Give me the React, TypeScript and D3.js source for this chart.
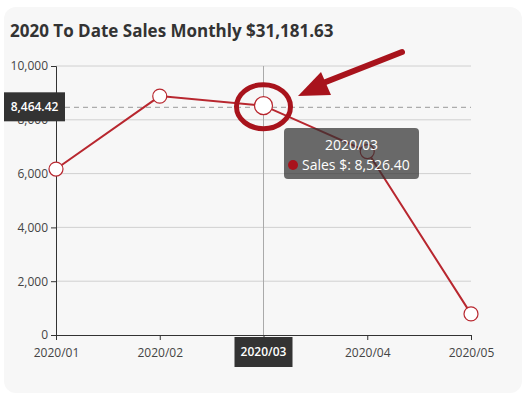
import React, { useRef, useEffect } from 'react'
import * as d3 from 'd3'

const months = ['2020/01', '2020/02', '2020/03', '2020/04', '2020/05']
const sales = [6170, 8880, 8526.4, 6820, 785.23]
const yTicks = [0, 2000, 4000, 6000, 8000, 10000]
const title = '2020 To Date Sales Monthly $31,181.63'
const pointerValue = 8464.42
const activeIndex = 2

export default function App() {
  const canvas = useRef<SVGSVGElement>(null)

  const W = 530
  const H = 399
  const margin = { top: 66, right: 59, bottom: 65, left: 56 }
  const width = 471 - 56
  const height = 335 - 66
  const red = '#b8272f'
  const annot = '#a8131c'

  useEffect(() => {
    const svg = d3.select(canvas.current)
    svg.selectAll('*').remove()
    svg.attr('width', W).attr('height', H)
      .style('position', 'absolute').style('left', '0px').style('top', '0px')
      .style('font-family', '"Open Sans", sans-serif')

    svg.append('rect').attr('x', 4).attr('y', 7).attr('width', 518).attr('height', 386).attr('rx', 12).attr('fill', '#f7f7f7')

    svg.append('text').attr('x', 10).attr('y', 37).attr('font-size', 17).attr('font-weight', 700).attr('fill', '#333').text(title)

    const g = svg.append('g').attr('transform', `translate(${margin.left}, ${margin.top})`)

    const x = d3.scalePoint<string>().domain(months).range([0, width])
    const y = d3.scaleLinear().domain([0, 10000]).range([height, 0])

    // grid
    g.selectAll('.grid').data(yTicks.slice(1)).join('line').attr('class', 'grid')
      .attr('x1', 0).attr('x2', width).attr('y1', d => y(d)).attr('y2', d => y(d))
      .attr('stroke', '#d0d0d0').attr('stroke-width', 1)

    // axes
    const xAxis = g.append('g').attr('transform', `translate(0,${height})`).call(d3.axisBottom(x).tickSize(5).tickPadding(8))
    xAxis.select('.domain').attr('stroke', '#333')
    xAxis.selectAll('.tick line').attr('stroke', '#333')
    xAxis.selectAll('.tick text').attr('font-size', 12).attr('fill', '#444').attr('font-family', '"Open Sans", sans-serif')

    const yAxis = g.append('g').call(d3.axisLeft(y).tickValues(yTicks).tickFormat(d3.format(',')).tickSize(5).tickPadding(3))
    yAxis.select('.domain').attr('stroke', '#333')
    yAxis.selectAll('.tick line').attr('stroke', '#333')
    yAxis.selectAll('.tick text').attr('font-size', 12).attr('fill', '#444').attr('font-family', '"Open Sans", sans-serif')

    // axis pointers
    const ax = x(months[activeIndex]) as number
    g.append('line').attr('x1', ax).attr('x2', ax).attr('y1', 0).attr('y2', height).attr('stroke', '#aaa')
    g.append('line').attr('x1', 0).attr('x2', width).attr('y1', y(pointerValue)).attr('y2', y(pointerValue))
      .attr('stroke', '#999').attr('stroke-dasharray', '5,4')

    // line
    const line = d3.line<number>().x((d, i) => x(months[i]) as number).y(d => y(d))
    g.append('path').datum(sales).attr('d', line).attr('fill', 'none').attr('stroke', red).attr('stroke-width', 2)

    g.selectAll('.pt').data(sales).join('circle').attr('class', 'pt')
      .attr('cx', (d, i) => x(months[i]) as number).attr('cy', d => y(d))
      .attr('r', (d, i) => i === activeIndex ? 9 : 7)
      .attr('fill', '#fff').attr('stroke', red).attr('stroke-width', 1.2)

    // y pointer label
    const py = margin.top + y(pointerValue)
    svg.append('rect').attr('x', 4).attr('y', py - 15).attr('width', 61).attr('height', 29).attr('fill', '#333')
    svg.append('text').attr('x', 34.5).attr('y', py + 4).attr('text-anchor', 'middle').attr('font-size', 12).attr('font-weight', 600)
      .attr('fill', '#fff').text(d3.format(',.2f')(pointerValue))

    // x pointer label
    const px = margin.left + ax
    svg.append('rect').attr('x', px - 29).attr('y', 337).attr('width', 58).attr('height', 30).attr('fill', '#333')
    svg.append('text').attr('x', px).attr('y', 356).attr('text-anchor', 'middle').attr('font-size', 12).attr('font-weight', 600)
      .attr('fill', '#fff').text(months[activeIndex])

    // tooltip
    const tip = svg.append('g').attr('transform', 'translate(284,128)')
    tip.append('rect').attr('width', 135).attr('height', 51).attr('rx', 4).attr('fill', 'rgba(50,50,50,0.72)')
    tip.append('text').attr('x', 67.5).attr('y', 22).attr('text-anchor', 'middle').attr('font-size', 14).attr('fill', '#fff').text(months[activeIndex])
    tip.append('circle').attr('cx', 9).attr('cy', 37).attr('r', 5).attr('fill', annot)
    tip.append('text').attr('x', 18).attr('y', 42).attr('font-size', 14).attr('fill', '#fff')
      .text('Sales $: ' + d3.format(',.2f')(sales[activeIndex]))

    // annotation
    const cx = px
    const cy = margin.top + y(sales[activeIndex])
    svg.append('ellipse').attr('cx', cx).attr('cy', cy + 1).attr('rx', 27).attr('ry', 22).attr('fill', 'none').attr('stroke', annot).attr('stroke-width', 5)
    svg.append('line').attr('x1', 402).attr('y1', 52).attr('x2', 318).attr('y2', 85).attr('stroke', annot).attr('stroke-width', 6).attr('stroke-linecap', 'round')
    svg.append('path').attr('d', 'M298,96 L321,72 L331,95 Z').attr('fill', annot)
  })

  return <svg ref={canvas} />
}
